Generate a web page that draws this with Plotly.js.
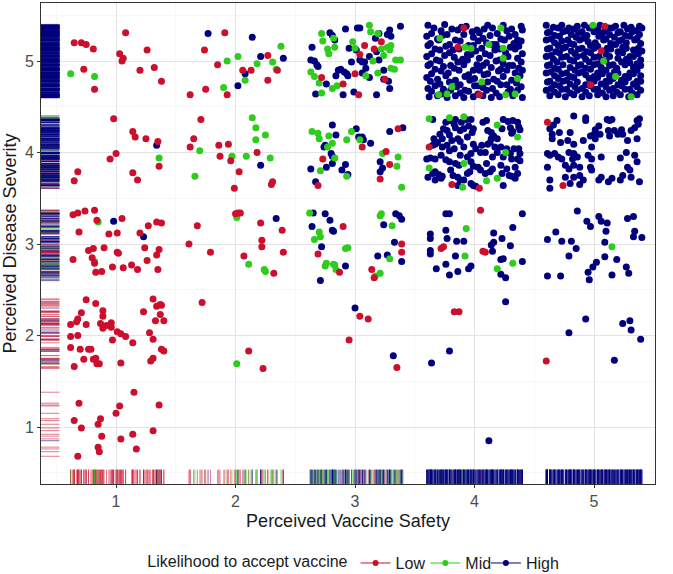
<!DOCTYPE html>
<html><head><meta charset="utf-8">
<script src="https://cdn.plot.ly/plotly-3.0.1.min.js"></script>
<style>html,body{margin:0;padding:0;background:#fff}#chart{width:673px;height:574px}</style>
</head><body><div id="chart"></div>
<script>
// ---------------- DATA ----------------
const groupNames = ["Low", "Mid", "High"];
const xTickVals = [1, 2, 3, 4, 5];
const xTickText = ["1", "2", "3", "4", "5"];
const yTickVals = [1, 2, 3, 4, 5];
const yTickText = ["1", "2", "3", "4", "5"];
const xTitle = "Perceived Vaccine Safety";
const yTitle = "Perceived Disease Severity";
const legendTitle = "Likelihood to accept vaccine";

// jittered [safety, severity] values
const lowPts = [
[0.65,5.20],[0.71,5.20],[0.75,5.18],[0.81,5.13],[1.08,5.31],[1.03,5.08],[1.06,5.03],[1.05,5.00],[1.26,5.12],[1.20,4.90],[1.32,4.93],[1.38,4.78],[0.73,4.91],[0.82,4.69],
[0.98,4.37],[1.14,4.23],[1.16,4.17],[1.25,4.15],[1.35,4.12],[1.00,3.99],[0.95,3.93],[0.68,3.79],[0.65,3.69],[1.14,3.78],[1.18,3.70],[1.36,3.85],
[0.64,3.32],[0.68,3.34],[0.74,3.36],[0.82,3.37],[0.69,3.13],[1.05,3.28],[0.94,3.11],[1.01,3.12],[1.20,3.12],[1.27,3.20],[1.34,3.24],[1.38,3.23],[0.77,2.93],[0.81,2.95],[0.90,2.96],[1.01,2.91],[1.24,2.96],[1.36,2.94],[1.34,2.88],[0.64,2.83],[0.80,2.85],[0.82,2.79],[0.83,2.69],[0.88,2.70],[0.97,2.75],[1.06,2.74],[1.13,2.77],[1.18,2.72],[1.26,2.82],[1.35,2.72],[0.84,3.26],[1.02,2.90],
[0.75,2.39],[0.83,2.35],[0.71,2.25],[0.68,2.18],[0.67,2.15],[0.62,2.12],[0.75,2.12],[0.89,2.27],[0.89,2.21],[0.87,2.13],[0.89,2.08],[0.96,2.14],[0.96,2.09],[1.01,2.04],[1.04,2.02],[1.08,1.99],[0.62,1.99],[0.68,2.00],[0.62,1.87],[0.70,1.85],[0.77,1.85],[0.79,1.85],[0.73,1.74],[0.65,1.66],[0.81,1.74],[0.83,1.75],[0.84,1.69],[0.86,1.69],[0.97,1.95],[1.04,1.70],[1.14,1.92],[1.23,2.26],[1.31,2.40],[1.34,2.32],[1.37,2.34],[1.38,2.33],[1.37,2.23],[1.33,2.16],[1.40,2.16],[1.28,2.03],[1.31,1.96],[1.38,1.85],[1.40,1.83],[1.31,1.75],[1.29,1.72],[0.92,2.11],
[0.69,1.26],[0.65,1.07],[0.71,0.99],[0.68,0.68],[0.87,1.09],[0.85,1.03],[0.88,0.90],[0.85,0.78],[0.86,0.73],[1.00,1.15],[1.03,1.23],[1.04,0.87],[1.15,1.38],[1.14,0.92],[1.17,0.76],[1.31,0.96],[1.36,1.24],
[1.91,5.31],[1.74,5.12],[1.85,4.96],[1.62,4.63],[1.75,4.69],[1.93,4.63],[2.06,4.90],[2.13,4.90],[2.27,5.06],[2.27,4.79],[2.35,4.90],
[1.71,4.36],[1.65,4.15],[1.62,4.06],[1.86,4.08],[1.94,4.09],[1.87,3.96],[1.96,3.91],[2.03,3.79],[1.99,3.61],[2.18,4.00],[2.30,3.65],[2.31,3.68],
[2.02,3.34],[2.04,3.34],[1.68,3.20],[1.61,3.00],[1.79,2.91],[2.07,2.87],[2.21,3.23],[2.39,3.15],[2.22,3.04],[2.22,2.97],[2.40,2.91],[2.32,2.68],[2.00,3.33],
[1.72,2.36],[2.11,1.83],[2.23,1.64],
[3.08,5.17],[3.16,5.13],[3.22,5.21],[3.04,5.07],[3.00,4.86],[2.72,4.82],[2.90,4.75],[3.25,4.80],[3.03,4.63],
[3.06,4.06],[2.73,3.93],[3.26,4.01],[3.29,3.87],[3.21,3.71],[2.69,3.64],[3.36,4.26],
[2.69,2.89],[2.87,2.69],[2.90,3.19],[3.39,3.00],[3.39,2.91],[3.14,2.72],[3.16,2.63],
[3.04,2.21],[3.11,2.18],[2.95,1.95],[3.35,1.65],
[3.91,5.36],[3.86,5.15],[4.04,4.63],
[3.62,4.06],[4.04,3.61],[3.81,3.65],
[4.05,3.37],[3.72,2.95],[3.74,2.97],[4.07,2.92],[4.09,2.91],
[3.83,2.26],[3.87,2.26],
[5.06,5.11],[4.97,4.74],[5.09,5.38],
[4.61,4.33],[4.74,3.64],
[4.60,1.72]
];

const midPts = [
[0.62,4.86],[0.82,4.83],[1.36,3.94],[0.85,3.24],[0.82,2.81],
[1.93,5.00],[2.02,5.05],[2.18,4.97],[2.31,4.99],[2.38,5.16],[2.34,4.91],[2.08,4.79],[1.90,4.71],
[2.14,4.38],[2.17,4.27],[2.25,4.19],[2.17,4.14],[1.70,4.02],[1.97,3.96],[2.09,3.96],[2.29,3.94],[1.66,3.74],
[2.01,3.29],[2.11,2.78],[2.24,2.72],[2.25,2.70],[2.01,1.69],
[2.72,5.30],[2.73,5.22],[2.77,5.13],[2.78,5.08],[2.83,5.15],[2.82,5.25],[2.98,5.21],[3.00,5.14],[3.12,5.39],[3.13,5.32],[3.19,5.30],[3.22,5.13],[3.27,5.15],[3.30,5.17],[3.29,5.12],[3.24,5.06],[3.34,5.01],[3.38,5.01],[3.30,4.92],[3.33,4.91],[3.15,5.00],[3.09,4.84],[3.19,4.87],[2.63,4.88],[2.66,4.83],[2.70,4.76],[2.81,4.70],[2.72,4.65],[2.85,4.73],
[2.64,4.23],[2.69,4.21],[2.70,4.15],[2.78,4.18],[2.81,4.10],[2.77,4.06],[2.93,4.14],[2.97,4.23],[3.04,4.14],[3.23,3.99],[3.36,3.95],[3.35,3.85],[2.83,3.94],[2.71,3.80],[2.93,3.74],[3.39,3.62],
[2.62,3.34],[2.70,3.13],[2.71,3.08],[2.66,3.05],[2.75,2.76],[2.76,2.79],[2.82,2.78],[2.84,2.72],[3.21,3.31],[3.22,3.33],[3.31,3.20],[2.92,2.95],[2.94,2.96],[3.29,2.84],[2.83,2.77],[3.17,2.65],[3.21,2.68],
[3.71,5.25],[3.92,5.15],[3.97,5.14],[4.12,5.18],[4.22,5.36],[4.24,5.14],[4.36,4.81],[3.81,4.72],[3.70,4.63],[3.77,4.64],[4.26,4.63],[4.34,4.64],[4.06,4.77],[4.24,5.03],
[3.62,4.37],[3.79,4.38],[3.91,4.39],[4.19,4.30],[4.36,4.17],[4.26,4.00],[3.91,3.88],[3.62,3.83],[4.19,3.72],[4.10,3.69],[3.90,3.62],
[3.93,3.17],[3.92,2.87],[4.32,2.79],[4.19,2.73],
[4.99,5.39],[5.08,5.00],[5.18,4.83],[5.31,4.61],
[5.15,2.97]
];

const highPts = [
[1.34,4.08],[0.98,3.25],[1.23,3.08],
[1.77,5.30],[2.14,5.26],[2.21,5.05],[2.40,5.03],[2.08,4.86],[2.02,4.73],[2.21,3.86],[2.34,3.28],
[2.92,5.35],[3.02,5.36],[3.04,5.36],[3.38,5.38],[3.29,5.34],[3.30,5.27],[3.27,5.29],[3.17,5.25],[2.64,5.15],[2.66,5.00],[2.68,4.96],[2.63,5.01],[2.69,4.94],[2.86,4.90],[2.88,4.91],[2.91,4.88],[2.93,4.86],[2.84,4.84],[2.94,4.84],[2.97,4.99],[3.04,5.01],[3.06,4.99],[3.08,4.99],[3.09,4.92],[3.06,4.87],[3.12,5.05],[3.20,5.01],[3.18,5.10],[3.24,4.90],[3.24,4.80],[3.28,4.78],[3.29,4.70],[2.76,4.75],[2.67,4.64],[2.90,4.63],[2.99,4.66],[3.18,4.63],[3.12,4.82],[2.79,5.31],[2.81,5.28],[2.83,5.23],[3.20,5.30],[3.01,5.12],[2.95,5.14],
[2.81,4.30],[2.84,4.19],[3.01,4.26],[3.03,4.17],[3.06,4.17],[3.07,4.14],[3.13,4.10],[2.75,4.08],[2.74,4.06],[2.80,3.99],[2.81,3.96],[2.81,3.88],[2.76,3.84],[2.63,3.82],[2.89,3.81],[2.92,3.87],[2.94,3.76],[2.67,3.68],[3.29,4.23],[3.40,4.27],[3.21,3.90],[3.23,3.83],[3.21,3.79],
[2.65,3.34],[2.75,3.33],[2.79,3.26],[2.82,3.14],[2.64,3.19],[2.72,2.97],[2.71,2.60],[2.81,3.15],[3.34,3.33],[3.37,3.31],[3.39,3.27],[3.24,3.21],[3.33,3.02],[3.39,2.81],[3.19,2.87],[3.27,2.88],[2.92,2.76],
[3.00,2.30],[3.32,1.78],
[3.61,5.39],[3.66,5.36],[3.75,5.40],[3.81,5.35],[3.89,5.37],[3.93,5.38],[4.02,5.34],[4.11,5.39],[4.15,5.36],[4.24,5.39],[4.31,5.35],[4.39,5.38],
[3.64,5.30],[3.72,5.33],[3.77,5.29],[3.86,5.34],[3.98,5.32],[4.04,5.31],[4.08,5.35],[4.19,5.30],[4.27,5.33],[4.34,5.29],[4.40,5.34],
[3.60,5.27],[3.69,5.24],[3.73,5.28],[3.84,5.23],[3.91,5.29],[3.99,5.26],[4.07,5.25],[4.13,5.28],[4.22,5.24],[4.29,5.27],[4.36,5.23],
[3.63,5.19],[3.70,5.23],[3.79,5.18],[3.88,5.22],[3.95,5.17],[4.03,5.22],[4.10,5.20],[4.18,5.18],[4.25,5.23],[4.33,5.19],[4.39,5.22],
[3.61,5.17],[3.67,5.13],[3.76,5.16],[3.82,5.12],[3.99,5.17],[4.06,5.14],[4.15,5.18],[4.21,5.13],[4.30,5.15],[4.37,5.16],
[3.64,5.08],[3.71,5.12],[3.79,5.09],[3.87,5.13],[3.94,5.07],[4.01,5.11],[4.09,5.08],[4.17,5.12],[4.26,5.09],[4.34,5.13],[4.40,5.08],
[3.60,5.05],[3.68,5.01],[3.75,5.06],[3.83,5.04],[3.90,5.02],[3.97,5.07],[4.04,5.03],[4.13,5.06],[4.21,5.01],[4.28,5.05],[4.36,5.03],
[3.63,4.97],[3.71,5.00],[3.80,4.95],[3.86,4.99],[3.94,5.01],[4.02,4.96],[4.10,4.98],[4.18,5.00],[4.24,4.97],[4.32,4.95],[4.39,4.99],
[3.61,4.95],[3.67,4.91],[3.74,4.94],[3.83,4.92],[3.91,4.96],[3.99,4.90],[4.07,4.95],[4.14,4.93],[4.22,4.91],[4.29,4.95],[4.37,4.92],
[3.64,4.86],[3.72,4.89],[3.78,4.87],[3.87,4.90],[3.95,4.85],[4.04,4.90],[4.11,4.86],[4.20,4.89],[4.27,4.90],[4.34,4.87],[4.40,4.90],
[3.60,4.82],[3.69,4.80],[3.76,4.84],[3.84,4.79],[3.92,4.83],[4.00,4.81],[4.08,4.85],[4.16,4.80],[4.24,4.83],[4.31,4.79],[4.38,4.84],
[3.63,4.78],[3.71,4.75],[3.79,4.77],[3.88,4.74],[3.96,4.79],[4.03,4.73],[4.11,4.77],[4.19,4.78],[4.27,4.74],[4.35,4.76],
[3.61,4.70],[3.67,4.73],[3.74,4.69],[3.85,4.72],[3.92,4.68],[4.00,4.73],[4.07,4.71],[4.15,4.70],[4.22,4.74],[4.30,4.69],[4.39,4.72],
[3.64,4.67],[3.72,4.64],[3.80,4.68],[3.88,4.65],[3.95,4.67],[4.03,4.64],[4.10,4.68],[4.18,4.65],[4.28,4.66],[4.36,4.68],
[3.62,4.61],[3.69,4.62],[3.77,4.60],[3.84,4.62],[3.91,4.60],[3.99,4.61],[4.07,4.62],[4.14,4.60],[4.21,4.61],[4.32,4.62],[4.40,4.60],
[3.65,4.36],[3.76,4.33],[3.79,4.35],[3.84,4.36],[3.83,4.31],[3.93,4.36],[3.97,4.36],[3.89,4.33],[4.07,4.33],[4.10,4.35],[4.24,4.36],[4.28,4.34],[4.32,4.35],[4.36,4.33],[4.23,4.26],[4.30,4.27],[4.37,4.28],[4.38,4.25],[4.32,4.23],
[3.74,4.26],[3.77,4.24],[3.71,4.20],[3.84,4.27],[3.88,4.24],[3.91,4.26],[3.95,4.29],[3.99,4.26],[3.98,4.22],[4.11,4.24],[4.14,4.22],[4.16,4.18],[4.14,4.15],[4.19,4.15],[4.31,4.21],
[3.66,4.15],[3.69,4.11],[3.73,4.15],[3.79,4.19],[3.81,4.13],[3.86,4.15],[3.88,4.12],[3.94,4.17],
[3.65,4.08],[3.67,4.09],[3.73,4.06],[3.77,4.08],[3.79,4.02],[3.83,4.04],[3.91,4.06],[3.99,4.09],[4.01,4.04],[4.06,4.08],[4.11,4.09],[4.13,4.11],[4.17,4.06],[4.22,4.06],[4.27,4.04],[4.30,3.99],[4.33,4.04],[4.37,4.04],[4.38,3.99],
[3.60,3.93],[3.63,3.94],[3.67,3.93],[3.72,3.97],[3.76,3.92],[3.88,3.97],[3.94,3.95],[3.97,3.99],[4.05,4.00],[4.09,4.00],[4.15,3.95],[4.19,4.00],[4.24,3.95],[4.31,3.93],[4.36,3.93],[4.38,3.91],
[3.79,3.90],[3.84,3.88],[3.87,3.86],[3.97,3.90],[3.99,3.85],[4.03,3.84],[4.10,3.88],[4.15,3.82],[4.22,3.86],[4.27,3.82],[4.34,3.84],
[3.61,3.73],[3.65,3.77],[3.67,3.79],[3.70,3.76],[3.73,3.74],[3.80,3.81],[3.82,3.75],[3.86,3.73],[3.88,3.70],[3.94,3.77],[3.96,3.79],[4.05,3.81],[4.09,3.77],[4.13,3.79],[4.23,3.77],[4.29,3.75],[4.31,3.74],[4.34,3.72],[4.36,3.77],
[3.97,3.66],[3.99,3.64],[4.01,3.63],[3.86,3.64],[3.91,3.70],[3.67,3.70],[3.72,3.72],[4.24,3.64],
[3.76,3.33],[3.79,3.33],[4.40,3.33],[4.32,3.18],[3.63,3.11],[3.63,3.06],[3.76,3.15],[3.77,3.06],[3.85,3.03],[3.91,3.03],[4.16,3.12],[4.23,3.06],[4.14,2.99],[4.30,2.98],[4.15,2.92],[3.63,2.93],[3.63,2.89],[3.84,2.87],[3.76,2.78],[3.97,2.76],[3.95,2.73],[4.22,2.83],[4.24,2.84],[4.40,2.81],[3.68,2.73],[3.79,2.66],[3.86,2.70],[4.22,2.67],[4.26,2.63],[4.16,3.02],
[4.26,2.37],[3.79,1.83],[3.64,1.70],[4.12,0.85],
[4.60,5.39],[4.66,5.37],[4.73,5.39],[4.79,5.36],[4.86,5.38],[4.92,5.39],[4.99,5.37],[5.05,5.39],[5.12,5.36],[5.18,5.38],[5.25,5.39],[5.31,5.37],[5.38,5.38],
[4.63,5.32],[4.70,5.36],[4.77,5.33],[4.83,5.35],[4.90,5.32],[4.96,5.36],[5.03,5.34],[5.09,5.33],[5.15,5.36],[5.22,5.32],[5.28,5.35],[5.35,5.33],[5.40,5.36],
[4.61,5.31],[4.67,5.28],[4.74,5.32],[4.81,5.29],[4.87,5.31],[4.94,5.28],[5.00,5.32],[5.07,5.30],[5.13,5.29],[5.20,5.31],[5.26,5.28],[5.32,5.32],[5.38,5.29],
[4.64,5.24],[4.71,5.27],[4.78,5.23],[4.85,5.26],[4.91,5.25],[5.04,5.27],[5.10,5.24],[5.17,5.26],[5.23,5.23],[5.30,5.27],[5.36,5.25],
[4.60,5.23],[4.67,5.20],[4.73,5.22],[4.80,5.19],[4.88,5.23],[4.95,5.21],[5.01,5.20],[5.08,5.23],[5.14,5.19],[5.21,5.22],[5.27,5.20],[5.34,5.23],[5.39,5.19],
[4.63,5.14],[4.70,5.17],[4.76,5.15],[4.83,5.18],[4.90,5.14],[4.97,5.17],[5.03,5.16],[5.11,5.14],[5.18,5.18],[5.24,5.15],[5.37,5.14],
[4.61,5.13],[4.68,5.10],[4.74,5.14],[4.81,5.11],[4.87,5.13],[4.94,5.10],[5.00,5.14],[5.07,5.11],[5.14,5.13],[5.20,5.10],[5.27,5.14],[5.33,5.12],[5.40,5.11],
[4.64,5.06],[4.71,5.09],[4.77,5.05],[4.84,5.08],[4.91,5.06],[4.97,5.09],[5.04,5.05],[5.10,5.08],[5.24,5.09],[5.30,5.05],[5.37,5.08],
[4.60,5.05],[4.66,5.02],[4.73,5.04],[4.80,5.01],[4.86,5.05],[4.93,5.02],[5.00,5.04],[5.07,5.01],[5.13,5.05],[5.20,5.03],[5.27,5.02],[5.33,5.05],[5.39,5.01],
[4.63,4.96],[4.69,4.99],[4.83,5.00],[4.89,4.96],[4.96,4.99],[5.03,4.97],[5.10,5.00],[5.16,4.96],[5.23,4.99],[5.30,4.98],[5.36,4.97],
[4.61,4.95],[4.67,4.92],[4.74,4.96],[4.80,4.93],[4.87,4.95],[4.93,4.92],[5.00,4.96],[5.06,4.93],[5.13,4.95],[5.19,4.92],[5.26,4.96],[5.33,4.93],[5.39,4.95],
[4.64,4.88],[4.70,4.91],[4.77,4.87],[4.84,4.90],[4.90,4.88],[4.97,4.91],[5.03,4.87],[5.10,4.90],[5.17,4.88],[5.30,4.87],[5.36,4.90],
[4.60,4.87],[4.67,4.84],[4.73,4.86],[4.80,4.83],[4.87,4.87],[4.93,4.85],[5.00,4.83],[5.07,4.86],[5.13,4.84],[5.20,4.87],[5.26,4.83],[5.33,4.86],[5.39,4.84],
[4.63,4.78],[4.70,4.81],[4.77,4.79],[4.83,4.82],[4.96,4.81],[5.03,4.82],[5.10,4.78],[5.16,4.81],[5.23,4.79],[5.29,4.82],[5.36,4.78],
[4.61,4.77],[4.67,4.74],[4.74,4.78],[4.80,4.75],[4.86,4.77],[4.93,4.74],[5.00,4.78],[5.06,4.75],[5.13,4.78],[5.20,4.74],[5.26,4.77],[5.33,4.75],[5.39,4.78],
[4.64,4.70],[4.71,4.73],[4.77,4.69],[4.84,4.72],[4.90,4.70],[4.97,4.73],[5.03,4.69],[5.10,4.72],[5.16,4.70],[5.23,4.73],[5.30,4.69],[5.36,4.72],
[4.60,4.68],[4.67,4.66],[4.73,4.69],[4.80,4.65],[4.86,4.68],[4.93,4.66],[5.00,4.69],[5.07,4.65],[5.13,4.68],[5.19,4.66],[5.26,4.69],[5.32,4.65],[5.39,4.68],
[4.63,4.62],[4.70,4.63],[4.76,4.61],[4.83,4.63],[4.90,4.61],[4.96,4.62],[5.03,4.63],[5.10,4.61],[5.16,4.62],[5.22,4.63],[5.29,4.61],[5.36,4.63],
[4.69,4.35],[4.66,4.30],[4.63,4.26],[4.65,4.20],[4.65,4.15],[4.71,4.22],[4.80,4.22],[4.83,4.40],[4.93,4.38],[4.93,4.35],[5.04,4.29],[5.01,4.25],[4.97,4.18],[5.00,4.20],[5.11,4.36],[5.13,4.35],[5.15,4.36],[5.12,4.24],[5.17,4.24],[5.23,4.25],[5.20,4.20],[5.13,4.18],[5.31,4.24],[5.36,4.35],[5.38,4.37],[5.37,4.31],[5.34,4.27],[5.28,4.13],[5.36,4.15],[4.83,4.09],[4.78,4.13],[4.72,4.11],[4.98,4.06],[4.91,4.13],
[4.61,3.99],[4.63,3.97],[4.67,3.99],[4.70,3.95],[4.73,3.93],[4.79,4.00],[4.83,3.99],[4.86,3.95],[4.82,3.93],[4.95,3.97],[4.98,3.93],[5.06,3.95],[5.22,3.94],[5.27,4.00],[5.34,3.97],[5.36,3.90],
[4.61,3.84],[4.76,3.86],[4.79,3.82],[4.83,3.86],[4.88,3.84],[4.97,3.84],[4.98,3.81],[4.88,3.75],[4.83,3.73],[4.76,3.73],[4.63,3.70],[4.63,3.61],[4.80,3.66],[4.88,3.65],[4.91,3.70],[5.06,3.73],[5.04,3.70],[5.12,3.68],[5.24,3.75],[5.28,3.84],[5.30,3.81],[5.31,3.73],[5.38,3.68],[5.22,3.70],[5.15,3.72],[5.24,4.20],[5.01,4.15],[5.05,4.20],
[4.86,3.36],[4.94,3.25],[4.97,3.19],[5.04,3.30],[5.06,3.25],[5.11,3.23],[5.10,3.14],[5.28,3.28],[5.33,3.30],[5.34,3.14],[5.33,3.08],[5.40,3.07],[4.61,3.05],[4.68,3.13],[4.73,3.03],[4.81,3.03],[4.85,2.95],[4.79,2.87],[5.02,2.80],[4.99,2.75],[5.09,2.86],[5.09,3.02],[5.19,2.83],[5.27,2.75],[4.61,2.65],[4.72,2.65],[4.95,2.69],[4.96,2.61],[5.15,2.66],[5.29,2.68],
[4.79,2.03],[4.93,2.18],[5.24,2.13],[5.30,2.16],[5.31,2.06],[5.39,1.96],[5.17,1.73]
];

// ---------------- STYLE ----------------
const FONT = "Liberation Sans, Arial, sans-serif";
const colors = {Low: "#CB0F2C", Mid: "#2ECC1C", High: "#00007F"};
const seriesPts = {Low: lowPts, Mid: midPts, High: highPts};
const drawOrder = ["High", "Mid", "Low"];
const legendIds = {Low: "legend", Mid: "legend2", High: "legend3"};

const traces = [];
// rugs
["Low", "Mid", "High"].forEach(g => {
  const pts = seriesPts[g];
  traces.push({
    type: "scatter", mode: "markers", xaxis: "x", yaxis: "y2",
    x: pts.map(p => p[0]), y: pts.map(() => 0.015),
    marker: {symbol: "line-ns", size: 10.2, color: colors[g], opacity: 0.55,
             line: {color: colors[g], width: 1}},
    showlegend: false, hoverinfo: "skip"
  });
  traces.push({
    type: "scatter", mode: "markers", xaxis: "x2", yaxis: "y",
    x: pts.map(() => 0.015), y: pts.map(p => p[1]),
    marker: {symbol: "line-ew", size: 13.2, color: colors[g], opacity: 0.55,
             line: {color: colors[g], width: 1}},
    showlegend: false, hoverinfo: "skip"
  });
});
// points
drawOrder.forEach(g => {
  const pts = seriesPts[g];
  traces.push({
    type: "scatter", mode: "markers", xaxis: "x", yaxis: "y",
    x: pts.map(p => p[0]), y: pts.map(p => p[1]), name: g,
    marker: {size: 7, color: colors[g], line: {width: 0}},
    showlegend: false
  });
});
// legend keys
groupNames.forEach(g => {
  traces.push({
    type: "scatter", mode: "lines+markers", x: [null], y: [null], name: g,
    legend: legendIds[g],
    line: {color: colors[g], width: 1}, marker: {size: 6, color: colors[g]},
    showlegend: true
  });
});

const axisCommon = {
  showgrid: true, gridcolor: "#E3E3E3", gridwidth: 1,
  zeroline: false, showline: true, mirror: true, linecolor: "#333333", linewidth: 1,
  ticks: "outside", ticklen: 3, tickcolor: "#333333", tickwidth: 1,
  tickfont: {family: FONT, size: 16, color: "#4D4D4D"},
  automargin: false,
  minor: {tick0: 0.5, dtick: 1, showgrid: true, gridcolor: "#F1F1F1", gridwidth: 0.6, ticks: ""}
};

const legendBase = {
  orientation: "h", xref: "container", xanchor: "left",
  yref: "container", y: 0.019, yanchor: "middle",
  font: {family: FONT, size: 16, color: "#1A1A1A"},
  itemwidth: 30, bgcolor: "rgba(0,0,0,0)"
};

const layout = {
  width: 673, height: 574,
  margin: {l: 41, r: 18, t: 3, b: 90, autoexpand: false},
  paper_bgcolor: "#FFFFFF", plot_bgcolor: "#FFFFFF",
  font: {family: FONT, color: "#000000"},
  xaxis: Object.assign({}, axisCommon, {
    range: [0.372, 5.51], tickmode: "array", tickvals: xTickVals, ticktext: xTickText,
    title: {text: xTitle, font: {family: FONT, size: 18, color: "#1A1A1A"}, standoff: 5}
  }),
  yaxis: Object.assign({}, axisCommon, {
    range: [0.377, 5.634], tickmode: "array", tickvals: yTickVals, ticktext: yTickText,
    title: {text: yTitle, font: {family: FONT, size: 18, color: "#1A1A1A"}, standoff: 6}
  }),
  xaxis2: {overlaying: "x", range: [0, 1], visible: false, showgrid: false, zeroline: false, fixedrange: true},
  yaxis2: {overlaying: "y", range: [0, 1], visible: false, showgrid: false, zeroline: false, fixedrange: true},
  showlegend: true,
  legend: Object.assign({}, legendBase, {
    x: 0.216,
    title: {text: legendTitle, side: "left", font: {family: FONT, size: 16, color: "#1A1A1A"}}
  }),
  legend2: Object.assign({}, legendBase, {x: 0.632}),
  legend3: Object.assign({}, legendBase, {x: 0.722})
};

Plotly.newPlot("chart", traces, layout, {displayModeBar: false, staticPlot: true});
</script>
</body></html>
